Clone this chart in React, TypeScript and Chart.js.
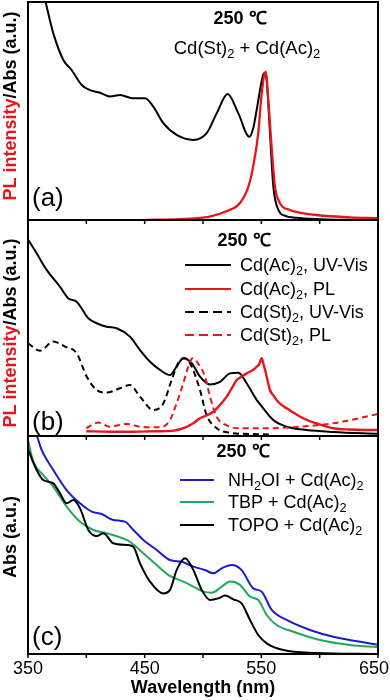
import React, { useEffect, useRef } from 'react';
import { Chart, registerables } from 'chart.js';

Chart.register(...registerables);

const FONT = '"Liberation Sans", Arial, Helvetica, sans-serif';
const RED = '#e8161b';
const BLUE = '#1c1cc8';
const GREEN = '#20aa5a';
const BLACK = '#000000';

// x ticks (nm)
const X_TICKS = [350, 400, 450, 500, 550, 600, 650];
const X_LABELED = [350, 450, 550, 650];

// ---------- Panel (a) ----------
const A_ABS_X = [350, 358, 364.6, 371.7, 380.3, 387.4, 396, 403, 411.7, 420.3, 428.9, 440.3, 450.3, 457.4, 466, 477.4, 491.7, 503.1, 511.7, 521.1, 530.3, 539.7, 543, 546, 549, 551.5, 553, 554.6, 557.4, 560.3, 564.6, 570, 580, 600, 650];
const A_ABS_Y = [1.35, 1.15, 1.01, 0.856, 0.734, 0.688, 0.619, 0.596, 0.584, 0.566, 0.573, 0.558, 0.558, 0.52, 0.444, 0.39, 0.367, 0.398, 0.489, 0.578, 0.489, 0.382, 0.42, 0.505, 0.6, 0.665, 0.675, 0.64, 0.4, 0.153, 0.046, 0.02, 0.01, 0.004, 0.0];
const A_PL_X = [450, 480, 491.7, 505.7, 520, 531.7, 538.9, 543, 547.4, 550.3, 553.7, 556, 559, 561.7, 566, 574.6, 585, 597, 626, 650];
const A_PL_Y = [0.0, 0.004, 0.007, 0.015, 0.04, 0.078, 0.153, 0.245, 0.4, 0.58, 0.68, 0.55, 0.32, 0.153, 0.077, 0.046, 0.032, 0.023, 0.012, 0.008];

// ---------- Panel (b) ----------
const B_AC_UV_X = [350, 357.4, 366, 377.4, 384.6, 391.7, 401.7, 408.9, 417.4, 426, 437.4, 446, 454.6, 463.1, 471.7, 477.4, 483.1, 490.3, 497.4, 506, 514.6, 523.1, 530.3, 537.4, 546, 551.7, 560.3, 571.7, 588.9, 611.7, 650];
const B_AC_UV_Y = [0.91, 0.846, 0.769, 0.691, 0.637, 0.622, 0.545, 0.522, 0.506, 0.499, 0.46, 0.398, 0.344, 0.306, 0.282, 0.321, 0.36, 0.337, 0.275, 0.239, 0.251, 0.29, 0.293, 0.244, 0.167, 0.128, 0.074, 0.043, 0.028, 0.019, 0.01];
const B_AC_PL_X = [400, 420, 440, 460, 475, 485, 492, 497.4, 503, 508.9, 514, 520.3, 525, 528.9, 533, 537.4, 541, 544, 546, 548, 550.3, 552, 553.5, 557.4, 560, 563.1, 567, 571.7, 577, 583, 590, 597, 605, 611.7, 625, 640, 650];
const B_AC_PL_Y = [0.022, 0.02, 0.02, 0.022, 0.025, 0.04, 0.06, 0.082, 0.095, 0.112, 0.14, 0.182, 0.225, 0.259, 0.275, 0.29, 0.3, 0.31, 0.321, 0.33, 0.36, 0.33, 0.3, 0.213, 0.19, 0.167, 0.145, 0.128, 0.11, 0.09, 0.072, 0.059, 0.045, 0.036, 0.03, 0.028, 0.028];
const B_ST_UV_X = [350, 360.3, 371.7, 381.7, 391.7, 400.3, 408.9, 417.4, 428.9, 437.4, 446, 457.4, 466, 473.1, 480.3, 484.6, 490.3, 497.4, 503.1, 511.7, 523.1, 550, 560];
const B_ST_UV_Y = [0.429, 0.395, 0.437, 0.414, 0.383, 0.275, 0.213, 0.201, 0.221, 0.236, 0.182, 0.12, 0.151, 0.259, 0.352, 0.36, 0.321, 0.213, 0.097, 0.036, 0.015, 0.008, 0.006];
const B_ST_PL_X = [400, 410.3, 420, 434.6, 446, 463, 471.7, 477.4, 483.1, 487.4, 491.1, 495.7, 501.7, 506, 511.7, 520, 531, 554, 583, 611.7, 630, 650];
const B_ST_PL_Y = [0.036, 0.062, 0.043, 0.056, 0.043, 0.04, 0.074, 0.151, 0.244, 0.321, 0.36, 0.337, 0.275, 0.182, 0.089, 0.05, 0.036, 0.036, 0.043, 0.059, 0.078, 0.102];

// ---------- Panel (c) ----------
const C_NH_X = [350, 357.7, 361.7, 371.7, 383.1, 394.6, 404.6, 413.1, 423.1, 433.1, 440.3, 448.9, 460.3, 471.7, 481.7, 491.7, 501.7, 508.9, 516, 524.6, 533.1, 543.1, 550.3, 558.9, 571.7, 591.7, 611.7, 650];
const C_NH_Y = [1.12, 1.0, 0.936, 0.844, 0.752, 0.691, 0.653, 0.642, 0.615, 0.607, 0.569, 0.523, 0.477, 0.431, 0.423, 0.401, 0.385, 0.37, 0.393, 0.408, 0.385, 0.301, 0.286, 0.202, 0.156, 0.11, 0.079, 0.042];
const C_TBP_X = [350, 354.6, 363.1, 371.7, 383.1, 394.6, 406, 417.4, 428.9, 437.4, 448.9, 460.3, 471.7, 483.1, 491.7, 500.3, 507.4, 516, 523.1, 531.7, 540.3, 547.4, 554.6, 563.1, 577.4, 600.3, 626, 650];
const C_TBP_Y = [0.98, 0.882, 0.821, 0.768, 0.676, 0.607, 0.569, 0.554, 0.535, 0.515, 0.462, 0.408, 0.358, 0.332, 0.309, 0.286, 0.281, 0.309, 0.332, 0.317, 0.263, 0.248, 0.179, 0.133, 0.102, 0.064, 0.041, 0.031];
const C_TOPO_X = [350, 357.4, 363.1, 371.7, 377.4, 383.1, 388.9, 394.6, 401.7, 408.9, 414.6, 423.1, 434.6, 440.3, 446, 454.6, 466, 471.7, 477.4, 484.6, 491.7, 498.9, 506, 513.1, 518.9, 526, 533.1, 540.3, 547.4, 554.6, 568.9, 597, 650];
const C_TOPO_Y = [0.94, 0.844, 0.798, 0.783, 0.737, 0.691, 0.706, 0.668, 0.569, 0.541, 0.554, 0.508, 0.5, 0.492, 0.416, 0.332, 0.278, 0.294, 0.385, 0.439, 0.385, 0.294, 0.248, 0.255, 0.268, 0.251, 0.232, 0.156, 0.087, 0.049, 0.018, 0.005, 0.0];

const pts = (xs: number[], ys: number[]) => xs.map((x, i) => ({ x, y: ys[i] }));

type Seg = { t: string; sub: boolean };
function parseRich(s: string): Seg[] {
  const out: Seg[] = [];
  let cur = '';
  for (let i = 0; i < s.length; i++) {
    if (s[i] === '_' && i + 1 < s.length) {
      if (cur) out.push({ t: cur, sub: false });
      cur = '';
      out.push({ t: s[i + 1], sub: true });
      i++;
    } else cur += s[i];
  }
  if (cur) out.push({ t: cur, sub: false });
  return out;
}

function drawRich(ctx: CanvasRenderingContext2D, s: string, x: number, y: number, size: number, bold: boolean, color: string, align: 'left' | 'center') {
  const segs = parseRich(s);
  const f = (sz: number) => `${bold ? 'bold ' : ''}${sz}px ${FONT}`;
  const subSize = size * 0.7;
  let total = 0;
  const widths = segs.map((sg) => {
    ctx.font = f(sg.sub ? subSize : size);
    const w = ctx.measureText(sg.t).width;
    total += w;
    return w;
  });
  let cx = align === 'center' ? x - total / 2 : x;
  const base = y + size * 0.36;
  ctx.fillStyle = color;
  ctx.textBaseline = 'alphabetic';
  ctx.textAlign = 'left';
  segs.forEach((sg, i) => {
    ctx.font = f(sg.sub ? subSize : size);
    ctx.fillText(sg.t, cx, sg.sub ? base + size * 0.22 : base);
    cx += widths[i];
  });
}

type TextItem = { s: string; x: number; y: number; size: number; bold?: boolean; align?: 'left' | 'center' };
type LegendItem = { s: string; color: string; dash: boolean; y: number };
type YLabelPart = { t: string; color: string };
type PanelCfg = {
  top: number;
  bottom: number;
  showAxis: boolean;
  datasets: any[];
  texts: TextItem[];
  legend: LegendItem[];
  legendX: [number, number, number];
  ylabel: YLabelPart[];
  ylabelPos: [number, number];
};

const decorPlugin = {
  id: 'decor',
  afterDraw(chart: any, _args: any, opts: any) {
    const cfg: PanelCfg = opts.cfg;
    const ctx: CanvasRenderingContext2D = chart.ctx;
    const { left, right, top, bottom } = chart.chartArea;
    const xs = chart.scales.x;
    ctx.save();
    // frame
    ctx.strokeStyle = '#000';
    ctx.lineWidth = 2;
    ctx.setLineDash([]);
    ctx.strokeRect(left, top, right - left, bottom - top);
    // ticks (outward)
    ctx.lineWidth = 1.5;
    X_TICKS.forEach((v) => {
      const px = xs.getPixelForValue(v);
      ctx.beginPath();
      ctx.moveTo(px, bottom);
      ctx.lineTo(px, bottom + 4);
      ctx.stroke();
    });
    // tick labels (bottom panel only), kept inside the canvas
    if (cfg.showAxis) {
      ctx.font = `18px ${FONT}`;
      ctx.fillStyle = '#000';
      ctx.textAlign = 'center';
      ctx.textBaseline = 'middle';
      X_LABELED.forEach((v) => {
        const s = String(v);
        const w = ctx.measureText(s).width;
        let px = xs.getPixelForValue(v);
        px = Math.max(w / 2 + 1, Math.min(px, chart.width - 1 - w / 2));
        ctx.fillText(s, px, bottom + 15);
      });
    }
    // texts
    cfg.texts.forEach((t) => drawRich(ctx, t.s, t.x, t.y, t.size, !!t.bold, '#000', t.align || 'center'));
    // legend
    const [lx1, lx2, tx] = cfg.legendX;
    cfg.legend.forEach((l) => {
      ctx.strokeStyle = l.color;
      ctx.lineWidth = 2.2;
      ctx.setLineDash(l.dash ? [9, 5] : []);
      ctx.beginPath();
      ctx.moveTo(lx1, l.y);
      ctx.lineTo(lx2, l.y);
      ctx.stroke();
      ctx.setLineDash([]);
      drawRich(ctx, l.s, tx, l.y, 18, false, '#000', 'left');
    });
    // y label (rotated, multi-colour)
    ctx.translate(cfg.ylabelPos[0], cfg.ylabelPos[1]);
    ctx.rotate(-Math.PI / 2);
    ctx.font = `bold 18px ${FONT}`;
    ctx.textBaseline = 'middle';
    ctx.textAlign = 'left';
    let tot = 0;
    cfg.ylabel.forEach((p) => (tot += ctx.measureText(p.t).width));
    let cx = -tot / 2;
    cfg.ylabel.forEach((p) => {
      ctx.fillStyle = p.color;
      ctx.fillText(p.t, cx, 0);
      cx += ctx.measureText(p.t).width;
    });
    ctx.restore();
  },
};

const line = (data: any[], color: string, dash = false, width = 2) => ({
  data,
  borderColor: color,
  backgroundColor: color,
  borderWidth: width,
  borderDash: dash ? [6, 4] : [],
  pointRadius: 0,
  fill: false,
  cubicInterpolationMode: 'monotone',
  tension: 0.4,
});

const panels: PanelCfg[] = [
  {
    top: 2,
    bottom: 220,
    showAxis: false,
    datasets: [line(pts(A_PL_X, A_PL_Y), RED, false, 2.3), line(pts(A_ABS_X, A_ABS_Y), BLACK)],
    texts: [
      { s: '250 ℃', x: 240, y: 18, size: 18, bold: true },
      { s: 'Cd(St)_2 + Cd(Ac)_2', x: 247, y: 47, size: 18.5 },
      { s: '(a)', x: 32, y: 197, size: 26, align: 'left' },
    ],
    legend: [],
    legendX: [0, 0, 0],
    ylabel: [
      { t: 'PL intensity', color: RED },
      { t: '/Abs (a.u.)', color: BLACK },
    ],
    ylabelPos: [11, 106],
  },
  {
    top: 220,
    bottom: 436,
    showAxis: false,
    datasets: [
      line(pts(B_AC_PL_X, B_AC_PL_Y), RED, false, 2.4),
      line(pts(B_ST_PL_X, B_ST_PL_Y), RED, true),
      line(pts(B_AC_UV_X, B_AC_UV_Y), BLACK),
      line(pts(B_ST_UV_X, B_ST_UV_Y), BLACK, true),
    ],
    texts: [
      { s: '250 ℃', x: 244, y: 240, size: 18, bold: true },
      { s: '(b)', x: 32, y: 421, size: 26, align: 'left' },
    ],
    legend: [
      { s: 'Cd(Ac)_2, UV-Vis', color: BLACK, dash: false, y: 265 },
      { s: 'Cd(Ac)_2, PL', color: RED, dash: false, y: 289 },
      { s: 'Cd(St)_2, UV-Vis', color: BLACK, dash: true, y: 312 },
      { s: 'Cd(St)_2, PL', color: RED, dash: true, y: 335 },
    ],
    legendX: [185, 231, 240],
    ylabel: [
      { t: 'PL intensity', color: RED },
      { t: '/Abs (a.u.)', color: BLACK },
    ],
    ylabelPos: [11, 333],
  },
  {
    top: 436,
    bottom: 654,
    showAxis: true,
    datasets: [
      line(pts(C_TOPO_X, C_TOPO_Y), BLACK),
      line(pts(C_TBP_X, C_TBP_Y), GREEN),
      line(pts(C_NH_X, C_NH_Y), BLUE),
    ],
    texts: [
      { s: '250 ℃', x: 243, y: 451, size: 18, bold: true },
      { s: '(c)', x: 32, y: 636, size: 26, align: 'left' },
    ],
    legend: [
      { s: 'NH_2OI + Cd(Ac)_2', color: BLUE, dash: false, y: 480 },
      { s: 'TBP + Cd(Ac)_2', color: GREEN, dash: false, y: 502 },
      { s: 'TOPO + Cd(Ac)_2', color: BLACK, dash: false, y: 525 },
    ],
    legendX: [180, 214, 228],
    ylabel: [{ t: 'Abs (a.u.)', color: BLACK }],
    ylabelPos: [11, 537],
  },
];

function Panel({ cfg }: { cfg: PanelCfg }) {
  const ref = useRef<HTMLCanvasElement>(null);
  useEffect(() => {
    const axisH = 700 - cfg.bottom;
    const chart = new Chart(ref.current as HTMLCanvasElement, {
      type: 'line',
      data: { datasets: cfg.datasets },
      plugins: [decorPlugin as any],
      options: {
        animation: false,
        responsive: false,
        devicePixelRatio: 1,
        layout: { padding: { left: 28, right: 12, top: cfg.top, bottom: cfg.showAxis ? 0 : 700 - cfg.bottom } },
        plugins: {
          legend: { display: false },
          tooltip: { enabled: false },
          decor: { cfg },
        } as any,
        scales: {
          x: {
            type: 'linear',
            min: 350,
            max: 650,
            display: cfg.showAxis,
            afterFit: (scale: any) => {
              if (cfg.showAxis) {
                scale.height = axisH;
                scale.paddingLeft = 0;
                scale.paddingRight = 0;
              }
            },
            grid: { display: false, drawTicks: false },
            border: { display: false },
            ticks: { display: false, stepSize: 50 },
            title: {
              display: true,
              text: 'Wavelength (nm)',
              color: '#000',
              font: { family: FONT, size: 18, weight: 'bold' },
              padding: { top: 0, bottom: 1 },
            },
          },
          y: { type: 'linear', min: 0, max: 1, display: false },
        },
      } as any,
    });
    return () => chart.destroy();
  }, [cfg]);
  return <canvas ref={ref} width={390} height={700} style={{ position: 'absolute', left: 0, top: 0, width: 390, height: 700 }} />;
}

export default function App() {
  return (
    <div style={{ position: 'absolute', left: 0, top: 0, width: 390, height: 700, background: '#fff' }}>
      {panels.map((p, i) => (
        <Panel key={i} cfg={p} />
      ))}
    </div>
  );
}
